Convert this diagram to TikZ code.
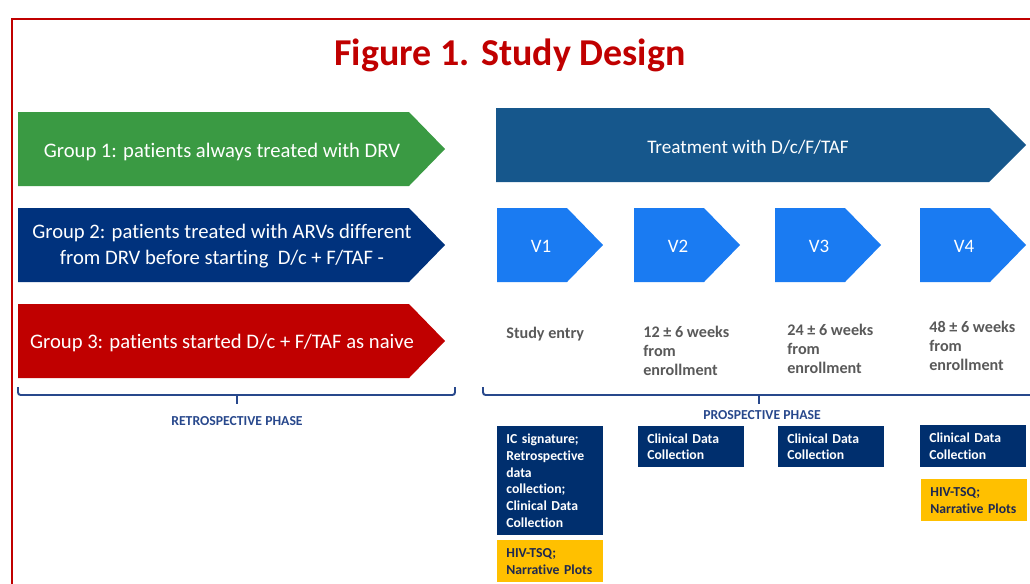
\documentclass[tikz,border=0pt]{standalone}
\usepackage{fontspec}
\setmainfont[Ligatures=NoCommon]{Carlito}
\definecolor{rojofig}{RGB}{192,0,0}
\definecolor{verdeg}{RGB}{58,154,67}
\definecolor{azulg}{RGB}{0,50,125}
\definecolor{azultrat}{RGB}{22,87,140}
\definecolor{azulv}{RGB}{26,123,242}
\definecolor{azulcaja}{RGB}{0,47,110}
\definecolor{amarillo}{RGB}{255,192,0}
\definecolor{textoamarillo}{RGB}{30,40,80}
\definecolor{azulfase}{RGB}{40,72,140}
\definecolor{grisfase}{RGB}{89,89,89}
\begin{document}
\begin{tikzpicture}[x=0.02cm, y=-0.02cm,
    textoflecha/.style={white, font=\fontsize{11.75}{14.7}\selectfont, align=center},
    textovisita/.style={white, font=\fontsize{10.8}{13}\selectfont},
    textotiempo/.style={grisfase, font=\bfseries\fontsize{9.2}{10.8}\selectfont, align=left, inner sep=0pt},
    caja/.style={fill=azulcaja, text=white, font=\bfseries\fontsize{7.8}{9.5}\selectfont, align=left, anchor=north west, inner xsep=0.18cm, inner ysep=0pt, text width=1.76cm, minimum width=2.12cm},
    cajaamarilla/.style={caja, fill=amarillo, text=textoamarillo},
    llave/.style={azulfase, line width=1.1pt, rounded corners=1.5pt},
    textofase/.style={azulfase, font=\bfseries\fontsize{7.8}{9}\selectfont, inner sep=0pt}]
    \clip (0,0) rectangle (1030,583);

    % Marco rojo y titulo
    \draw[rojofig, line width=1.2pt] (12,600) -- (12,19) -- (1040,19);
    \node[rojofig, font=\bfseries\fontsize{21.6}{26}\selectfont, anchor=base] (titulo) at (510,65) {Figure 1. Study Design};

    % Flechas de los grupos
    \fill[verdeg] (18,112) -- (409,112) -- (445,149) -- (409,186) -- (18,186) -- cycle;
    \node[textoflecha, anchor=base] (g1) at (222,157) {Group 1: patients always treated with DRV};
    \fill[azulg] (18,208) -- (409,208) -- (445,245) -- (409,282) -- (18,282) -- cycle;
    \node[textoflecha] (g2) at (222,246) {Group 2: patients treated with ARVs different\\from DRV before starting~ D/c + F/TAF -};
    \fill[rojofig] (18,304) -- (409,304) -- (445,341) -- (409,378) -- (18,378) -- cycle;
    \node[textoflecha, anchor=base] (g3) at (222,348) {Group 3: patients started D/c + F/TAF as naive};

    % Tratamiento y visitas
    \fill[azultrat] (496,108) -- (989,108) -- (1026,145) -- (989,182) -- (496,182) -- cycle;
    \node[white, font=\fontsize{10.9}{13}\selectfont, anchor=base] (trat) at (748,153) {Treatment with D/c/F/TAF};
    \foreach \x/\v in {497/1, 634/2, 775/3, 920/4} {
        \fill[azulv] (\x,208) -- (\x+70,208) -- (\x+106,245) -- (\x+70,282) -- (\x,282) -- cycle;
        \node[textovisita, anchor=base] (v\v) at (\x+44,252) {V\v};
    }

    % Tiempos de cada visita (base = ultima linea)
    \node[textotiempo, anchor=base west] (t1) at (506,338) {Study entry};
    \node[textotiempo, anchor=base west] (t2) at (643,375) {12 ± 6 weeks\\from\\enrollment};
    \node[textotiempo, anchor=base west] (t3) at (787,373) {24 ± 6 weeks\\from\\enrollment};
    \node[textotiempo, anchor=base west] (t4) at (929,370) {48 ± 6 weeks\\from\\enrollment};

    % Llaves de las fases
    \draw[llave] (18,387) -- (18,395) -- (455,395) -- (455,387);
    \draw[llave] (237,395) -- (237,404);
    \node[textofase, anchor=base] (retro) at (237,425) {RETROSPECTIVE PHASE};
    \draw[llave] (483,387) -- (483,395) -- (1040,395);
    \draw[llave] (759,395) -- (759,404);
    \node[textofase, anchor=base] (pros) at (762,419) {PROSPECTIVE PHASE};

    % Cajas de recogida de datos
    \node[caja, minimum height=2.18cm] (ic) at (497,426) {IC signature;\\Retrospective\\data\\collection;\\Clinical Data\\Collection};
    \node[cajaamarilla, minimum height=0.84cm] (hiv1) at (497,540) {HIV-TSQ;\\Narrative Plots};
    \node[caja, minimum height=0.82cm] (c2) at (638,426) {Clinical Data\\Collection};
    \node[caja, minimum height=0.82cm] (c3) at (778,426) {Clinical Data\\Collection};
    \node[caja, minimum height=0.84cm] (c4) at (920,425) {Clinical Data\\Collection};
    \node[cajaamarilla, minimum height=0.84cm] (hiv4) at (921,479) {HIV-TSQ;\\Narrative Plots};
\end{tikzpicture}
\end{document}
